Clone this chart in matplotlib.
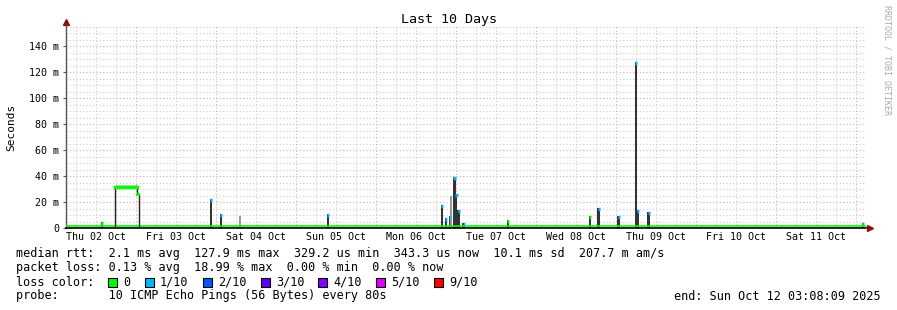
import datetime as dt
import matplotlib
matplotlib.use("Agg")
import matplotlib.pyplot as plt

# window of the graph
start = dt.datetime(2025, 10, 2, 3, 8, 9)
end = dt.datetime(2025, 10, 12, 3, 8, 9)

# baseline median rtt (ms)
baseline_ms = 1.5

# spikes: hours after start, median rtt (ms), loss colour index (-1 = smoke only)
spike_hours = [10.8, 43.4, 46.4, 52.2, 78.6, 112.8, 113.9, 115.1, 115.5, 116.5,
               117.1, 117.8, 119.3, 132.5, 157.1, 159.8, 165.8, 170.9, 171.5,
               174.8, 239.1]
spike_ms = [4.6, 22.0, 11.0, 9.0, 10.7, 18.0, 8.0, 9.5, 25.0, 39.5,
            26.0, 14.0, 3.6, 6.0, 9.0, 15.6, 9.5, 128.0, 13.6,
            12.5, 4.0]
spike_loss = [0, 1, 1, -1, 1, 1, 1, 1, -1, 1,
              1, 1, 1, 0, 0, 1, 1, 1, 1,
              1, 0]

# plateau on Thu 02 Oct (hours after start, ms)
plateau_hours = [14.7, 21.2, 22.0]
plateau_ms = [32.0, 26.0]

loss_labels = ["0", "1/10", "2/10", "3/10", "4/10", "5/10", "9/10"]
loss_colors = ["#00ff00", "#00b8ff", "#0059ff", "#5e00ff", "#7e00ff", "#dd00ff", "#ff0000"]

stats_line = "median rtt:  2.1 ms avg  127.9 ms max  329.2 us min  343.3 us now  10.1 ms sd  207.7 m am/s"
loss_line = "packet loss: 0.13 % avg  18.99 % max  0.00 % min  0.00 % now"
probe_line = "probe:       10 ICMP Echo Pings (56 Bytes) every 80s"
end_line = "end: Sun Oct 12 03:08:09 2025"

plt.rcParams['font.family'] = ['DejaVu Sans Mono']

W, H = 897, 310
fig = plt.figure(figsize=(W / 100, H / 100), dpi=100)
ax = fig.add_axes([66 / W, 82 / H, 800 / W, 203 / H])

def t(h):
    return start + dt.timedelta(hours=h)

ax.set_xlim(start, end)
ax.set_ylim(0, 203 / 1.3)

# grid
for v in range(5, 160, 5):
    major = v % 20 == 0
    ax.axhline(v, color="#e8a8a8" if major else "#cccccc", lw=0.8,
               ls=(0, (1, 2)), zorder=0)
cur = dt.datetime(2025, 10, 2, 6)
while cur < end:
    major = cur.hour == 0
    ax.axvline(cur, color="#e8a8a8" if major else "#cccccc", lw=0.8,
               ls=(0, (1, 2)), zorder=0)
    cur += dt.timedelta(hours=6)

# baseline median
ax.plot([start, end], [baseline_ms, baseline_ms], color="#00ff00", lw=1.2, zorder=3)

# plateau
px = [t(plateau_hours[0]), t(plateau_hours[0]), t(plateau_hours[1]), t(plateau_hours[1]),
      t(plateau_hours[2]), t(plateau_hours[2])]
py = [baseline_ms, plateau_ms[0], plateau_ms[0], plateau_ms[1], plateau_ms[1], baseline_ms]
ax.plot(px, py, color="#222222", lw=1.0, zorder=3)
ax.plot([t(plateau_hours[0]), t(plateau_hours[1])], [plateau_ms[0] - 0.3] * 2,
        color="#00ff00", lw=2.5, zorder=4)
ax.plot([t(plateau_hours[1]), t(plateau_hours[2] - 0.3)], [plateau_ms[1] + 0.5] * 2,
        color="#00ff00", lw=2.0, zorder=4)

# spikes
bw = dt.timedelta(hours=0.7)
for h, v, li in zip(spike_hours, spike_ms, spike_loss):
    x = t(h)
    if li < 0:
        ax.bar(x, v, width=bw, color="#999999", lw=0, zorder=2)
        continue
    ax.bar(x, v, width=bw, color="#333333", lw=0, zorder=2)
    ax.plot([x - bw / 2, x + bw / 2], [v - 0.8, v - 0.8], color=loss_colors[li],
            lw=2.5, solid_capstyle="butt", zorder=4)

# axes
for s in ["top", "right"]:
    ax.spines[s].set_visible(False)
ax.spines["bottom"].set_color("black")
ax.spines["bottom"].set_linewidth(1.2)
ax.spines["bottom"].set_zorder(5)
ax.spines["left"].set_color("#555555")
ax.spines["left"].set_linewidth(1.0)
ax.plot(1.005, 0, marker=">", color="#8b1010", ms=4, transform=ax.transAxes, clip_on=False)
ax.plot(0, 1.015, marker="^", color="#8b1010", ms=4, transform=ax.transAxes, clip_on=False)

ax.set_yticks(range(0, 160, 20))
ax.set_yticklabels(["0"] + [f"{v} m" for v in range(20, 160, 20)])
noons = [dt.datetime(2025, 10, d, 12) for d in range(2, 12)]
ax.set_xticks(noons)
ax.set_xticklabels([d.strftime("%a %d %b") for d in noons])
ax.tick_params(axis="both", labelsize=7.2, length=0, pad=3)
ax.tick_params(axis="y", length=2, color="#555555")

fig.text(448.5 / W, 1 - 19 / H, "Last 10 Days", ha="center", va="center", fontsize=9.6)
fig.text(11 / W, 1 - 127 / H, "Seconds", rotation=90, ha="center", va="center",
         fontsize=8)
fig.text(887 / W, 1 - 5 / H, "RRDTOOL / TOBI OETIKER", rotation=270, ha="center",
         va="top", fontsize=6, color="#aaaaaa")

fs = 8.5
def put(x, y, s, **kw):
    fig.text(x / W, 1 - y / H, s, fontsize=fs, va="center", ha=kw.pop("ha", "left"), **kw)

put(16, 254, stats_line)
put(16, 268, loss_line)
put(16, 282, "loss color:")
box_x = [108, 145, 203, 261, 318, 376, 434]
for bx, lab, col in zip(box_x, loss_labels, loss_colors):
    fig.patches.append(plt.Rectangle((bx / W, 1 - 287 / H), 9 / W, 9 / H,
                                     transform=fig.transFigure, facecolor=col,
                                     edgecolor="black", lw=0.8))
    put(bx + 15, 282, lab)
put(16, 296, probe_line)
put(881, 296, end_line, ha="right")

fig.savefig("out.png", dpi=100)
